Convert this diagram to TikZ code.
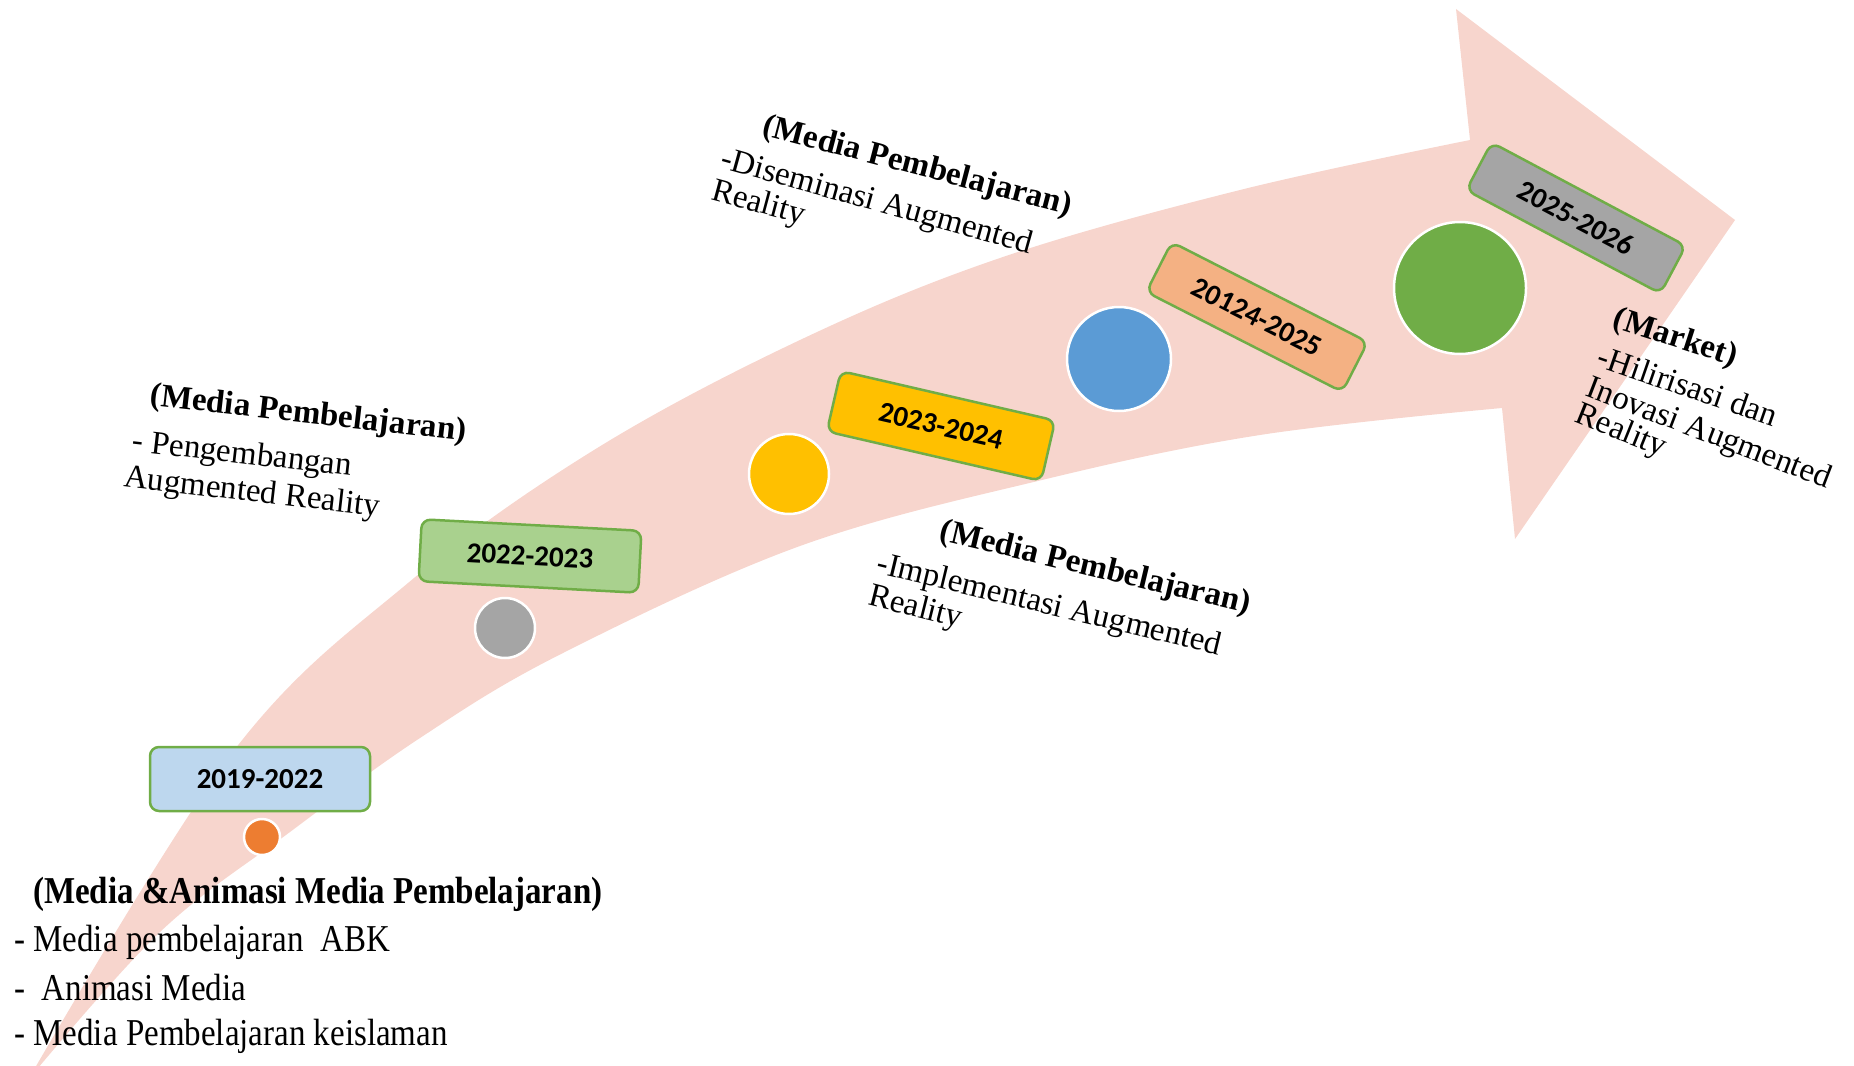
\documentclass[tikz,border=0pt]{standalone}
\usepackage{fontspec}
\setmainfont{Liberation Serif}
\newfontfamily\boxfont{Carlito}
\definecolor{arrowpink}{RGB}{247,213,205}
\definecolor{boxgreen}{RGB}{112,173,71}
\definecolor{fillblue}{RGB}{189,215,238}
\definecolor{fillgreen}{RGB}{169,209,142}
\definecolor{fillyellow}{RGB}{255,192,0}
\definecolor{fillpeach}{RGB}{244,177,131}
\definecolor{fillgray}{RGB}{165,165,165}
\definecolor{dotorange}{RGB}{237,125,49}
\definecolor{dotgray}{RGB}{165,165,165}
\definecolor{dotyellow}{RGB}{255,192,0}
\definecolor{dotblue}{RGB}{91,155,213}
\definecolor{dotgreen}{RGB}{112,173,71}
\begin{document}
\begin{tikzpicture}[x=1pt,y=1pt,
  yearbox/.style={draw=boxgreen, line width=2.5pt, rounded corners=9pt,
    minimum width=220pt, minimum height=60pt, inner sep=0pt,
    font=\boxfont\bfseries\fontsize{29}{34}\selectfont, text=black},
  dot/.style={circle, draw=white, line width=2.5pt, inner sep=0pt},
  titletext/.style={font=\bfseries\fontsize{33}{40}\selectfont, inner sep=0pt, anchor=west},
  bodytext/.style={font=\fontsize{33}{40}\selectfont, inner sep=0pt, anchor=west}]
\useasboundingbox (0,0) rectangle (1854,-1065);
\clip (0,0) rectangle (1854,-1065);
% big curved arrow
\fill[arrowpink]
  plot[smooth, tension=0.6] coordinates {(28,-1080) (232,-753) (408,-583) (594,-450) (800,-340) (1000,-258) (1240,-190) (1470,-140)}
  -- (1456,-9) -- (1735,-220) -- (1515,-539) -- (1502,-408)
  -- plot[smooth, tension=0.6] coordinates {(1502,-408) (1260,-435) (1042,-480) (800,-546) (561,-654) (420,-738) (290,-832) (160,-932) (28,-1080)}
  -- cycle;
% dots
\node[dot, fill=dotorange, minimum size=36pt] (c1) at (262,-837) {};
\node[dot, fill=dotgray, minimum size=60pt] (c2) at (505,-628) {};
\node[dot, fill=dotyellow, minimum size=80pt] (c3) at (789,-474) {};
\node[dot, fill=dotblue, minimum size=104pt] (c4) at (1119,-359) {};
\node[dot, fill=dotgreen, minimum size=132pt] (c5) at (1460,-288) {};
% year boxes
\node[yearbox, fill=fillblue, minimum height=64pt] (b1) at (260,-779) {2019-2022};
\node[yearbox, fill=fillgreen, minimum height=62pt, rotate=-3] (b2) at (530,-556) {2022-2023};
\node[yearbox, fill=fillyellow, minimum height=62pt, rotate=-13] (b3) at (941,-426) {2023-2024};
\node[yearbox, fill=fillpeach, minimum height=56pt, rotate=-27] (b4) at (1257,-317) {20124-2025};
\node[yearbox, fill=fillgray, minimum height=54pt, rotate=-28] (b5) at (1576,-218) {2025-2026};
% block 1
\node[titletext, yscale=1.15] (t1) at (33,-894) {(Media \&Animasi Media Pembelajaran)};
\node[bodytext, yscale=1.15] (t1a) at (14,-942) {- Media pembelajaran\ \ ABK};
\node[bodytext, yscale=1.15] (t1b) at (14,-988) {-\ \ Animasi Media};
\node[bodytext, yscale=1.15] (t1c) at (14,-1036) {- Media Pembelajaran keislaman};
% block 2
\node[titletext, rotate=-6.5] (t2) at (150,-397) {(Media Pembelajaran)};
\node[bodytext, rotate=-6.5] (t2a) at (132,-443) {- Pengembangan};
\node[bodytext, rotate=-6.5] (t2b) at (124,-479) {Augmented Reality};
% block 3
\node[titletext, rotate=-14.6] (t3) at (763,-127) {(Media Pembelajaran)};
\node[bodytext, rotate=-15.5] (t3a) at (721,-160) {-Diseminasi Augmented};
\node[bodytext, rotate=-15] (t3b) at (712,-192) {Reality};
% block 4
\node[titletext, rotate=-13.4] (t4) at (940,-532) {(Media Pembelajaran)};
\node[bodytext, rotate=-13.5] (t4a) at (877,-565) {-Implementasi Augmented};
\node[bodytext, rotate=-14] (t4b) at (869,-597) {Reality};
% block 5
\node[titletext, rotate=-18] (t5) at (1614,-319) {(Market)};
\node[bodytext, rotate=-19] (t5a) at (1599,-355) {-Hilirisasi dan};
\node[bodytext, rotate=-21] (t5b) at (1587,-388) {Inovasi Augmented};
\node[bodytext, rotate=-22] (t5c) at (1576,-414) {Reality};
\end{tikzpicture}
\end{document}
